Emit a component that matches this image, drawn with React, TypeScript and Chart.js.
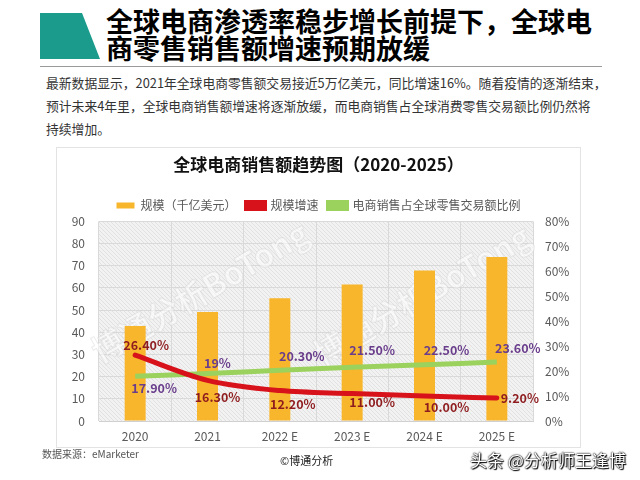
import React, { useEffect, useRef } from "react";
import { Chart, registerables } from "chart.js";

Chart.register(...registerables);

const categories = ["2020", "2021", "2022 E", "2023 E", "2024 E", "2025 E"];
const scaleValues = [42.8, 49.2, 55.4, 61.5, 67.9, 74.0];
const growthValues = [26.4, 16.3, 12.2, 11.0, 10.0, 9.2];
const shareValues = [17.9, 19.0, 20.3, 21.5, 22.5, 23.6];
const growthLabels = ["26.40%", "16.30%", "12.20%", "11.00%", "10.00%", "9.20%"];
const shareLabels = ["17.90%", "19%", "20.30%", "21.50%", "22.50%", "23.60%"];
const leftTicks = [0, 10, 20, 30, 40, 50, 60, 70, 80, 90];
const rightTicks = [0, 10, 20, 30, 40, 50, 60, 70, 80];

// label placement (style only)
const growthOffset = [[11, -10], [10, 17], [13, 14], [20, 9], [22, 11], [23, 0]];
const shareOffset = [[19, 12], [10, -10], [22, -14], [20, -17], [22, -15], [21, -14]];

const FONT = "'Noto Sans CJK SC', 'Noto Sans', sans-serif";

const bgPlugin = {
  id: "plotBg",
  beforeDatasetsDraw(chart: any) {
    const { ctx, chartArea } = chart;
    const pc = document.createElement("canvas");
    pc.width = 4;
    pc.height = 4;
    const p = pc.getContext("2d")!;
    p.fillStyle = "#f2f2f2";
    p.fillRect(0, 0, 4, 4);
    p.strokeStyle = "#e1e1e1";
    p.lineWidth = 1;
    p.beginPath();
    p.moveTo(0, 0);
    p.lineTo(4, 4);
    p.moveTo(-1, 3);
    p.lineTo(1, 5);
    p.moveTo(3, -1);
    p.lineTo(5, 1);
    p.stroke();
    const pat = ctx.createPattern(pc, "repeat");
    ctx.save();
    ctx.globalCompositeOperation = "destination-over";
    ctx.fillStyle = pat;
    ctx.fillRect(chartArea.left, chartArea.top, chartArea.right - chartArea.left, chartArea.bottom - chartArea.top);
    ctx.restore();
    // faint watermark
    ctx.save();
    ctx.font = `bold 32px ${FONT}`;
    ctx.fillStyle = "rgba(255,255,255,0.55)";
    ctx.strokeStyle = "rgba(200,200,200,0.35)";
    ctx.lineWidth = 1;
    const marks = [
      [200, 292],
      [422, 295],
    ];
    marks.forEach(([x, y]) => {
      ctx.save();
      ctx.translate(x - 57, y - 148);
      ctx.rotate(-0.53);
      ctx.textAlign = "center";
      ctx.textBaseline = "middle";
      ctx.fillText("博通分析BoTong", 0, 0);
      ctx.strokeText("博通分析BoTong", 0, 0);
      ctx.restore();
    });
    ctx.restore();
  },
};

const labelPlugin = {
  id: "valueLabels",
  afterDatasetsDraw(chart: any) {
    const { ctx } = chart;
    const draw = (dsIndex: number, labels: string[], offs: number[][], color: string) => {
      const meta = chart.getDatasetMeta(dsIndex);
      meta.data.forEach((pt: any, i: number) => {
        ctx.save();
        ctx.font = `bold 12.5px ${FONT}`;
        ctx.fillStyle = color;
        ctx.textAlign = "center";
        ctx.textBaseline = "middle";
        ctx.fillText(labels[i], pt.x + offs[i][0], pt.y + offs[i][1]);
        ctx.restore();
      });
    };
    draw(1, growthLabels, growthOffset, "#8e1b1e");
    draw(2, shareLabels, shareOffset, "#6a3d8c");
  },
};

function ChartBox() {
  const ref = useRef<HTMLCanvasElement>(null);
  useEffect(() => {
    const chart = new Chart(ref.current!, {
      type: "bar",
      data: {
        labels: categories,
        datasets: [
          {
            type: "bar",
            label: "规模（千亿美元）",
            data: scaleValues,
            backgroundColor: "#f8b62d",
            borderWidth: 0,
            barPercentage: 0.29,
            categoryPercentage: 1,
            yAxisID: "y",
            order: 3,
          },
          {
            type: "line",
            label: "规模增速",
            data: growthValues,
            borderColor: "#d8121b",
            backgroundColor: "#d8121b",
            borderWidth: 5,
            borderCapStyle: "round",
            pointRadius: 0,
            tension: 0.4,
            cubicInterpolationMode: "monotone",
            yAxisID: "y1",
            order: 1,
          },
          {
            type: "line",
            label: "电商销售占全球零售交易额比例",
            data: shareValues,
            borderColor: "#9bd15d",
            backgroundColor: "#9bd15d",
            borderWidth: 5,
            pointRadius: 0,
            tension: 0.4,
            yAxisID: "y1",
            order: 2,
          },
        ],
      } as any,
      options: {
        animation: false,
        responsive: false,
        maintainAspectRatio: false,
        layout: { padding: { left: 0, right: 0, top: 0, bottom: 0 } },
        plugins: {
          tooltip: { enabled: false },
          title: {
            display: true,
            text: "全球电商销售额趋势图（2020-2025）",
            color: "#111",
            font: { family: FONT, size: 17, weight: "bold" },
            padding: { top: 6, bottom: 15 },
          },
          legend: {
            display: true,
            labels: {
              color: "#595959",
              font: { family: FONT, size: 12 },
              boxWidth: 18,
              boxHeight: 6,
              padding: 10,
              sort: (a: any, b: any) => a.datasetIndex - b.datasetIndex,
            },
          },
        },
        scales: {
          x: {
            grid: { color: "#d9d9d9", drawTicks: false, offset: true },
            border: { color: "#d0d0d0" },
            ticks: { color: "#595959", font: { family: FONT, size: 12 }, padding: 8 },
            afterFit: (s: any) => {
              s.height = 26;
            },
          },
          y: {
            position: "left",
            min: 0,
            max: 90,
            afterBuildTicks: (s: any) => {
              s.ticks = leftTicks.map((v) => ({ value: v }));
            },
            grid: { color: "#d9d9d9", drawTicks: false },
            border: { display: false },
            ticks: { color: "#595959", font: { family: FONT, size: 12 }, padding: 14 },
            afterFit: (s: any) => {
              s.width = 42;
            },
          },
          y1: {
            position: "right",
            min: 0,
            max: 80,
            afterBuildTicks: (s: any) => {
              s.ticks = rightTicks.map((v) => ({ value: v }));
            },
            grid: { display: false, drawTicks: false },
            border: { display: false },
            ticks: {
              color: "#595959",
              font: { family: FONT, size: 12 },
              padding: 12,
              callback: (v: any) => v + "%",
            },
            afterFit: (s: any) => {
              s.width = 47;
            },
          },
        },
      } as any,
      plugins: [bgPlugin, labelPlugin],
    });
    return () => chart.destroy();
  }, []);
  return <canvas ref={ref} width={523} height={299} style={{ width: 523, height: 299, display: "block" }} />;
}

export default function App() {
  return (
    <div style={{ position: "absolute", left: 0, top: 0, width: 640, height: 480, background: "#fff", overflow: "hidden", fontFamily: FONT }}>
      <div
        style={{
          position: "absolute",
          left: 40,
          top: 13,
          width: 60,
          height: 46,
          background: "#1a9b8c",
          clipPath: "polygon(0 0, 70% 0, 100% 100%, 0 100%)",
        }}
      />
      <div style={{ position: "absolute", left: 106, top: 7, fontSize: 27, fontWeight: 700, lineHeight: "27px", color: "#000", whiteSpace: "nowrap" }}>
        <div>全球电商渗透率稳步增长前提下，全球电</div>
        <div>商零售销售额增速预期放缓</div>
      </div>
      <div style={{ position: "absolute", left: 40, top: 66, width: 562, height: 1, background: "#9a9a9a" }} />
      <div style={{ position: "absolute", left: 46, top: 71, width: 570, fontSize: 12.8, lineHeight: "23px", color: "#333" }}>
        <div style={{ whiteSpace: "nowrap" }}>最新数据显示，2021年全球电商零售额交易接近5万亿美元，同比增速16%。随着疫情的逐渐结束，</div>
        <div style={{ whiteSpace: "nowrap" }}>预计未来4年里，全球电商销售额增速将逐渐放缓，而电商销售占全球消费零售交易额比例仍然将</div>
        <div style={{ whiteSpace: "nowrap" }}>持续增加。</div>
      </div>
      <div style={{ position: "absolute", left: 57, top: 148, width: 523, height: 299, boxShadow: "0 0 0 1px #e3e3e3" }}>
        <ChartBox />
      </div>
      <div style={{ position: "absolute", left: 42, top: 446, fontSize: 10, color: "#555" }}>数据来源：eMarketer</div>
      <div style={{ position: "absolute", left: 280, top: 452, fontSize: 11, color: "#222" }}>©博通分析</div>
      <div
        style={{
          position: "absolute",
          left: 470,
          top: 447,
          fontSize: 17,
          color: "#fff",
          whiteSpace: "nowrap",
          textShadow: "0 0 2px #000, 0 0 1px #000, 1px 1px 1px #000",
        }}
      >
        头条 @分析师王逢博
      </div>
    </div>
  );
}
